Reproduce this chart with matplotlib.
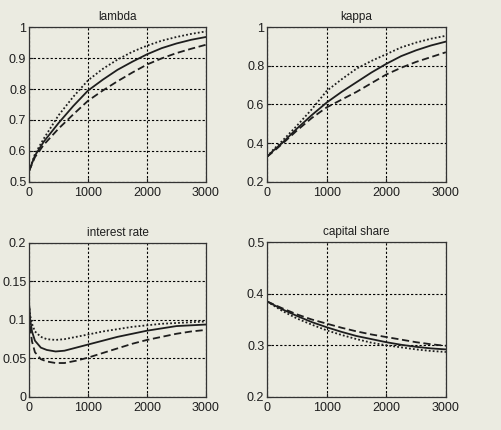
import matplotlib.pyplot as plt

# panel titles and y ranges
titles = ['lambda', 'kappa', 'interest rate', 'capital share']
ylims = [(0.5, 1.0), (0.2, 1.0), (0.0, 0.2), (0.2, 0.5)]
yticks = [[0.5, 0.6, 0.7, 0.8, 0.9, 1.0],
          [0.2, 0.4, 0.6, 0.8, 1.0],
          [0.0, 0.05, 0.1, 0.15, 0.2],
          [0.2, 0.3, 0.4, 0.5]]
ytick_labels = [['0.5', '0.6', '0.7', '0.8', '0.9', '1'],
                ['0.2', '0.4', '0.6', '0.8', '1'],
                ['0', '0.05', '0.1', '0.15', '0.2'],
                ['0.2', '0.3', '0.4', '0.5']]
xticks = [0, 1000, 2000, 3000]

# lambda
lam_t = [0, 100, 250, 500, 750, 1000, 1250, 1500, 1750, 2000, 2250, 2500, 2750, 3000]
lam_solid = [0.535, 0.585, 0.63, 0.69, 0.745, 0.795, 0.83, 0.862, 0.888, 0.912, 0.932, 0.947, 0.959, 0.968]
lam_dot = [0.535, 0.59, 0.64, 0.715, 0.775, 0.828, 0.865, 0.895, 0.92, 0.94, 0.956, 0.968, 0.978, 0.986]
lam_dash = [0.535, 0.58, 0.62, 0.672, 0.718, 0.762, 0.795, 0.825, 0.853, 0.879, 0.899, 0.916, 0.93, 0.943]

# kappa
kap_t = [0, 100, 250, 500, 750, 1000, 1250, 1500, 1750, 2000, 2250, 2500, 2750, 3000]
kap_solid = [0.33, 0.36, 0.40, 0.475, 0.545, 0.61, 0.665, 0.715, 0.765, 0.81, 0.85, 0.88, 0.905, 0.925]
kap_dot = [0.33, 0.365, 0.41, 0.49, 0.575, 0.67, 0.73, 0.785, 0.825, 0.86, 0.895, 0.92, 0.94, 0.955]
kap_dash = [0.33, 0.355, 0.395, 0.465, 0.53, 0.585, 0.625, 0.665, 0.71, 0.755, 0.79, 0.82, 0.845, 0.87]

# interest rate
r_t = [0, 20, 50, 100, 200, 300, 450, 600, 800, 1000, 1250, 1500, 1750, 2000, 2250, 2500, 2750, 3000]
r_solid = [0.12, 0.10, 0.085, 0.073, 0.064, 0.061, 0.059, 0.06, 0.064, 0.068, 0.073, 0.078, 0.082, 0.086, 0.089, 0.092, 0.093, 0.094]
r_dot = [0.12, 0.105, 0.095, 0.085, 0.078, 0.075, 0.074, 0.075, 0.078, 0.081, 0.085, 0.088, 0.091, 0.093, 0.095, 0.096, 0.097, 0.098]
r_dash = [0.12, 0.09, 0.072, 0.058, 0.049, 0.046, 0.044, 0.044, 0.047, 0.051, 0.057, 0.063, 0.069, 0.074, 0.078, 0.082, 0.085, 0.087]

# capital share
cs_t = [0, 250, 500, 750, 1000, 1250, 1500, 1750, 2000, 2250, 2500, 2750, 3000]
cs_solid = [0.385, 0.37, 0.357, 0.345, 0.335, 0.326, 0.318, 0.312, 0.306, 0.301, 0.297, 0.294, 0.292]
cs_dash = [0.385, 0.372, 0.36, 0.35, 0.342, 0.334, 0.327, 0.321, 0.316, 0.311, 0.306, 0.302, 0.299]
cs_dot = [0.385, 0.367, 0.352, 0.34, 0.329, 0.32, 0.312, 0.305, 0.3, 0.296, 0.292, 0.289, 0.287]

series = [
    (lam_t, lam_solid, lam_dot, lam_dash),
    (kap_t, kap_solid, kap_dot, kap_dash),
    (r_t, r_solid, r_dot, r_dash),
    (cs_t, cs_solid, cs_dot, cs_dash),
]

bg = '#ebebe1'
ink = '#1e1e1e'
plt.rcParams['font.family'] = ['Liberation Sans', 'DejaVu Sans']

fig = plt.figure(figsize=(5.01, 4.30), dpi=100, facecolor=bg)
positions = [[0.058, 0.577, 0.353, 0.360],
             [0.533, 0.577, 0.357, 0.360],
             [0.058, 0.077, 0.353, 0.358],
             [0.533, 0.077, 0.357, 0.360]]

for i in range(4):
    ax = fig.add_axes(positions[i], facecolor=bg)
    t, s, d, dd = series[i]
    ax.plot(t, d, color=ink, linestyle=(0, (1, 1.2)), linewidth=1.3)
    ax.plot(t, dd, color=ink, linestyle=(0, (4, 2)), linewidth=1.3)
    ax.plot(t, s, color=ink, linestyle='-', linewidth=1.3)
    ax.set_xlim(0, 3000)
    ax.set_ylim(*ylims[i])
    ax.set_xticks(xticks)
    ax.set_xticklabels([str(v) for v in xticks])
    ax.set_yticks(yticks[i])
    ax.set_yticklabels(ytick_labels[i])
    ax.grid(True, color='black', linestyle=(0, (2, 1.8)), linewidth=0.8)
    ax.tick_params(direction='in', length=3, labelsize=9, colors=ink)
    ax.tick_params(axis='x', pad=4)
    ax.tick_params(axis='y', pad=2)
    for sp in ax.spines.values():
        sp.set_color('#333333')
        sp.set_linewidth(0.9)
    ax.set_title(titles[i], fontsize=8.5, pad=5, color=ink)

fig.savefig('out.png', dpi=100, facecolor=bg)
